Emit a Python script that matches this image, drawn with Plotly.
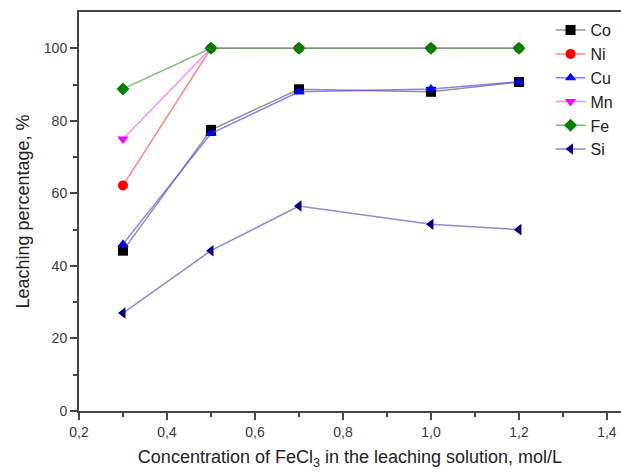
import plotly.graph_objects as go

conc = [0.3, 0.5, 0.7, 1.0, 1.2]
co = [44.2, 77.5, 88.7, 88.0, 90.7]
ni = [62.2, 100.0, 100.0, 100.0, 100.0]
cu = [46.0, 76.5, 88.0, 88.8, 90.8]
mn = [75.0, 100.0, 100.0, 100.0, 100.0]
fe = [88.8, 100.0, 100.0, 100.0, 100.0]
si = [27.0, 44.2, 56.5, 51.5, 50.0]

series = [
    ("Co", co, "rgba(110,110,110,0.75)", "black", "square"),
    ("Ni", ni, "rgba(255,90,90,0.75)", "red", "circle"),
    ("Cu", cu, "rgba(90,90,255,0.75)", "blue", "triangle-up"),
    ("Mn", mn, "rgba(255,100,255,0.75)", "magenta", "triangle-down"),
    ("Fe", fe, "rgba(80,170,80,0.75)", "green", "diamond"),
    ("Si", si, "rgba(100,100,190,0.75)", "#000080", "triangle-left"),
]

fig = go.Figure()
for name, vals, lc, mc, sym in series:
    fig.add_trace(go.Scatter(
        x=conc, y=vals, name=name, mode="lines+markers",
        line=dict(color=lc, width=1.5),
        marker=dict(color=mc, symbol=sym, size=10, line=dict(width=0)),
    ))

axis_font = dict(family="Liberation Sans, Arial, sans-serif", size=14, color="#3a3a3a")
title_font = dict(family="Liberation Sans, Arial, sans-serif", size=18, color="#222222")
fig.update_layout(
    width=621, height=475,
    margin=dict(l=79, r=0, t=12, b=64),
    paper_bgcolor="white", plot_bgcolor="white",
    separators=",.",
    font=dict(family="Liberation Sans, Arial, sans-serif", color="#333333"),
    legend=dict(x=0.87, y=0.997, xanchor="left", yanchor="top",
                font=dict(size=16, color="#222222"), bgcolor="rgba(0,0,0,0)",
                tracegroupgap=0),
    xaxis=dict(
        range=[0.2, 1.432], tickvals=[0.2, 0.4, 0.6, 0.8, 1.0, 1.2, 1.4],
        tickformat=".1f", ticks="outside", ticklen=7, tickwidth=1.5,
        tickcolor="#444444",
        minor=dict(tickvals=[0.3, 0.5, 0.7, 0.9, 1.1, 1.3], ticks="outside",
                   ticklen=4, tickcolor="#444444", tickwidth=1.5),
        showline=True, linecolor="#444444", linewidth=2, mirror=True,
        showgrid=False, zeroline=False, tickfont=axis_font,
        title=dict(text="Concentration of FeCl<sub>3</sub> in the leaching solution, mol/L",
                   font=title_font, standoff=12),
    ),
    yaxis=dict(
        range=[0, 110], tickvals=[0, 20, 40, 60, 80, 100],
        ticks="outside", ticklen=7, tickwidth=1.5, tickcolor="#444444",
        minor=dict(tickvals=[10, 30, 50, 70, 90], ticks="outside",
                   ticklen=4, tickcolor="#444444", tickwidth=1.5),
        showline=True, linecolor="#444444", linewidth=2,
        showgrid=False, zeroline=False, tickfont=axis_font,
        title=dict(text="Leaching percentage, %", font=title_font, standoff=10),
    ),
)
fig.write_html("out.html")
